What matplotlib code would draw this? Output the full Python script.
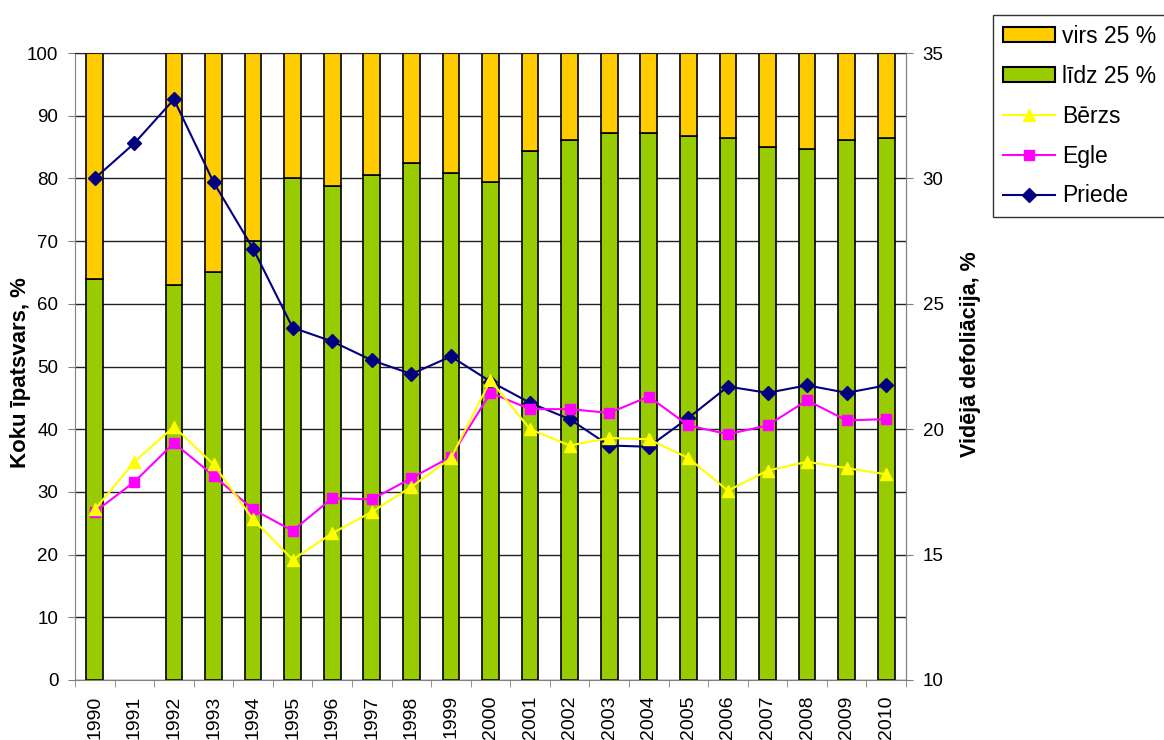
import matplotlib
matplotlib.use('Agg')
import matplotlib.pyplot as plt
from matplotlib.patches import Patch
from matplotlib.lines import Line2D
import numpy as np

plt.rcParams['font.family'] = ['Liberation Sans', 'DejaVu Sans']

years = list(range(1990, 2011))
# share of trees with defoliation up to 25 % (left axis); 1991 has no bar
lidz_25 = [64, np.nan, 63, 65, 70, 80, 78.8, 80.6, 82.5, 80.9, 79.4,
           84.3, 86.2, 87.3, 87.3, 86.8, 86.4, 85.0, 84.7, 86.2, 86.4]
virs_25 = [100 - v for v in lidz_25]

# mean defoliation, % (right axis)
berzs = [16.8, 18.7, 20.1, 18.6, 16.4, 14.8, 15.85, 16.7, 17.7, 18.85, 21.95,
         20.0, 19.35, 19.65, 19.6, 18.85, 17.55, 18.35, 18.7, 18.45, 18.2]
egle = [16.7, 17.9, 19.45, 18.15, 16.8, 15.95, 17.25, 17.2, 18.05, 18.9, 21.45,
        20.8, 20.8, 20.65, 21.3, 20.15, 19.8, 20.15, 21.15, 20.35, 20.4]
priede = [30.0, 31.4, 33.15, 29.85, 27.2, 24.05, 23.5, 22.75, 22.2, 22.9, 21.9,
          21.05, 20.4, 19.35, 19.3, 20.45, 21.7, 21.45, 21.75, 21.45, 21.75]

c_virs = '#FFCC00'
c_lidz = '#99CC00'

fig = plt.figure(figsize=(11.64, 7.40), dpi=100)
ax = fig.add_axes([75 / 1164, 1 - 680 / 740, (906 - 75) / 1164, (680 - 53) / 740])
x = np.arange(len(years))

ax.bar(x, lidz_25, width=0.42, color=c_lidz, edgecolor='black', linewidth=1.2, zorder=2)
ax.bar(x, virs_25, width=0.42, bottom=lidz_25, color=c_virs, edgecolor='black',
       linewidth=1.2, zorder=2)

ax.set_xlim(-0.5, len(years) - 0.5)
ax.set_ylim(0, 100)
ax.set_yticks(range(0, 101, 10))
ax.yaxis.grid(True, color='#222222', linewidth=1)
ax.set_axisbelow(True)
ax.tick_params(axis='y', labelsize=13.5, direction='out', length=5, pad=7, color='#808080')
ax.set_xticks(x)
ax.set_xticklabels([str(y) for y in years], rotation=90, fontsize=14)
ax.tick_params(axis='x', which='major', length=0, pad=11)
ax.set_xticks(np.arange(-0.5, len(years)), minor=True)
ax.tick_params(axis='x', which='minor', length=5, direction='out', color='#808080')
for s in ['left', 'bottom', 'right']:
    ax.spines[s].set_color('#808080')
ax.spines['top'].set_color('#222222')
ax.set_ylabel('Koku īpatsvars, %', fontsize=16, fontweight='bold')
ax.yaxis.set_label_coords(-0.053, 0.49)

ax2 = ax.twinx()
ax2.set_ylim(10, 35)
ax2.set_yticks(range(10, 36, 5))
ax2.tick_params(axis='y', labelsize=13.5, direction='out', length=5, pad=7, color='#808080')
ax2.spines['right'].set_color('#808080')
ax2.spines['left'].set_visible(False)
ax2.spines['top'].set_visible(False)
ax2.spines['bottom'].set_visible(False)

ax2.plot(x, priede, color='#000080', marker='D', markersize=7, linewidth=1.5, zorder=3)
ax2.plot(x, egle, color='#FF00FF', marker='s', markersize=7.5, linewidth=1.5, zorder=4)
ax2.plot(x, berzs, color='#FFFF00', marker='^', markersize=9, linewidth=1.5, zorder=5)
ax2.set_ylabel('Vidējā defoliācija, %', fontsize=15.5, fontweight='bold')
ax2.yaxis.set_label_coords(1.065, 0.52)

handles = [
    Patch(facecolor=c_virs, edgecolor='black', linewidth=1.5, label='virs 25 %'),
    Patch(facecolor=c_lidz, edgecolor='black', linewidth=1.5, label='līdz 25 %'),
    Line2D([], [], color='#FFFF00', marker='^', markersize=9, label='Bērzs'),
    Line2D([], [], color='#FF00FF', marker='s', markersize=7.5, label='Egle'),
    Line2D([], [], color='#000080', marker='D', markersize=7, label='Priede'),
]
leg = fig.legend(handles=handles, loc='upper left', bbox_to_anchor=(993 / 1164, 1 - 15 / 740),
                 fontsize=16.5, frameon=True, fancybox=False, edgecolor='black',
                 handlelength=2.3, handleheight=0.6, handletextpad=0.28, labelspacing=0.74,
                 borderpad=0.42, borderaxespad=0)
leg.get_frame().set_linewidth(1)

fig.savefig('out.png', dpi=100)
